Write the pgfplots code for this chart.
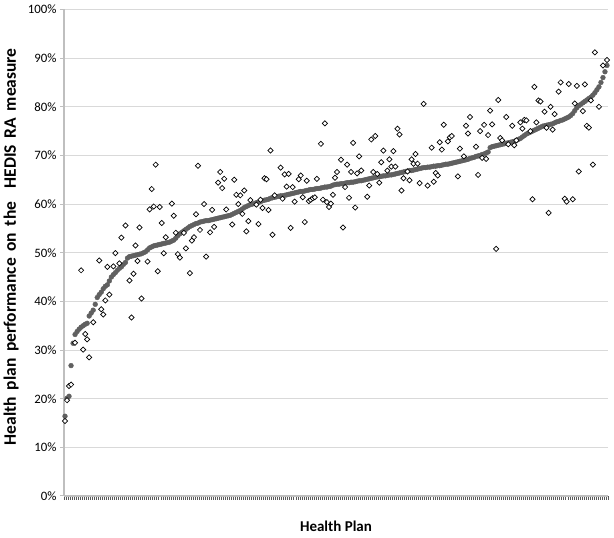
\documentclass[border=0pt]{standalone}
\usepackage{pgfplots}
\pgfplotsset{compat=1.18}
\usepackage{fontspec}
\setmainfont{Carlito}
\definecolor{gridc}{RGB}{217,217,217}
\definecolor{axc}{RGB}{191,191,191}
\definecolor{dotc}{RGB}{96,96,96}
\begin{document}
\begin{tikzpicture}
\begin{axis}[
  scale only axis, width=544pt, height=486.5pt,
  at={(0pt,0pt)}, anchor=south west,
  xmin=0.5, xmax=270.5, ymin=0, ymax=100,
  axis x line*=bottom, axis y line*=left,
  axis line style={axc, line width=1.6pt},
  ytick={0,10,...,100},
  yticklabel={\pgfmathprintnumber{\tick}\%},
  /pgf/number format/assume math mode=true,
  yticklabel style={font=\fontsize{12.8}{15}\selectfont, anchor=east},
  ymajorgrids, grid style={gridc, line width=0.8pt},
  xtick={0.5,1.5,...,270.5},
  xticklabels={},
  tick align=outside,
  major tick length=4pt,
  x tick style={black!65, line width=0.4pt},
  y tick style={axc, line width=1pt},
  xlabel={\textbf{Health Plan}},
  xlabel style={at={(axis description cs:0.5,0)}, anchor=center, yshift=-30pt, font=\fontsize{15}{18}\selectfont},
  ylabel={\spaceskip=0.38em\textbf{Health plan performance on the \ HEDIS RA measure}},
  ylabel style={at={(axis description cs:0,0.5)}, anchor=center, yshift=53pt, xshift=6pt, font=\fontsize{17.5}{20}\selectfont},
  clip=false,
]
\addplot[only marks, mark=*, mark size=2.4pt, mark options={fill=dotc, draw=dotc}] coordinates {
(1,16.4)(2,20.1)(3,20.5)(4,26.8)(5,31.4)(6,33.2)(7,33.8)(8,34.3)(9,34.7)(10,35.0)
(11,35.3)(12,35.5)(13,37.0)(14,37.6)(15,38.2)(16,39.4)(17,40.8)(18,41.4)(19,41.9)(20,42.6)
(21,43.1)(22,43.4)(23,44.2)(24,45.0)(25,45.5)(26,45.9)(27,46.4)(28,46.8)(29,47.1)(30,47.6)
(31,48.0)(32,48.9)(33,49.2)(34,49.3)(35,49.4)(36,49.5)(37,49.6)(38,49.7)(39,49.8)(40,50.0)
(41,50.2)(42,50.6)(43,51.0)(44,51.2)(45,51.4)(46,51.5)(47,51.6)(48,51.7)(49,51.8)(50,51.9)
(51,52.0)(52,52.1)(53,52.2)(54,52.4)(55,52.6)(56,53.0)(57,53.5)(58,53.9)(59,54.2)(60,54.5)
(61,54.8)(62,55.1)(63,55.4)(64,55.6)(65,55.8)(66,56.0)(67,56.1)(68,56.3)(69,56.4)(70,56.5)
(71,56.6)(72,56.6)(73,56.7)(74,56.8)(75,56.9)(76,57.0)(77,57.1)(78,57.2)(79,57.3)(80,57.4)
(81,57.5)(82,57.6)(83,57.7)(84,57.9)(85,58.1)(86,58.3)(87,58.5)(88,58.7)(89,59.0)(90,59.3)
(91,59.5)(92,59.7)(93,59.9)(94,60.0)(95,60.1)(96,60.3)(97,60.4)(98,60.5)(99,60.7)(100,60.8)
(101,60.9)(102,61.0)(103,61.2)(104,61.3)(105,61.4)(106,61.5)(107,61.6)(108,61.7)(109,61.7)(110,61.8)
(111,61.9)(112,62.0)(113,62.1)(114,62.2)(115,62.3)(116,62.4)(117,62.5)(118,62.6)(119,62.6)(120,62.7)
(121,62.8)(122,62.9)(123,63.0)(124,63.0)(125,63.1)(126,63.2)(127,63.2)(128,63.3)(129,63.4)(130,63.5)
(131,63.5)(132,63.6)(133,63.7)(134,63.9)(135,64.0)(136,64.1)(137,64.1)(138,64.2)(139,64.2)(140,64.3)
(141,64.4)(142,64.4)(143,64.5)(144,64.5)(145,64.6)(146,64.7)(147,64.8)(148,64.8)(149,64.9)(150,65.0)
(151,65.1)(152,65.2)(153,65.3)(154,65.4)(155,65.5)(156,65.6)(157,65.6)(158,65.7)(159,65.8)(160,65.8)
(161,65.9)(162,66.0)(163,66.0)(164,66.1)(165,66.2)(166,66.3)(167,66.4)(168,66.5)(169,66.6)(170,66.7)
(171,66.8)(172,66.9)(173,66.9)(174,67.0)(175,67.1)(176,67.2)(177,67.3)(178,67.4)(179,67.5)(180,67.5)
(181,67.6)(182,67.6)(183,67.7)(184,67.8)(185,67.8)(186,67.9)(187,67.9)(188,68.0)(189,68.1)(190,68.2)
(191,68.2)(192,68.3)(193,68.4)(194,68.5)(195,68.6)(196,68.7)(197,68.8)(198,68.9)(199,69.0)(200,69.1)
(201,69.2)(202,69.4)(203,69.5)(204,69.6)(205,69.8)(206,69.9)(207,70.0)(208,70.2)(209,70.3)(210,70.5)
(211,70.7)(212,71.6)(213,71.8)(214,71.9)(215,72.0)(216,72.1)(217,72.2)(218,72.3)(219,72.4)(220,72.5)
(221,72.6)(222,72.7)(223,72.8)(224,72.9)(225,73.1)(226,73.3)(227,73.5)(228,73.8)(229,74.1)(230,74.4)
(231,74.6)(232,74.8)(233,75.0)(234,75.2)(235,75.4)(236,75.6)(237,75.8)(238,76.0)(239,76.1)(240,76.2)
(241,76.3)(242,76.4)(243,76.5)(244,76.7)(245,76.9)(246,77.0)(247,77.2)(248,77.3)(249,77.5)(250,77.7)
(251,77.9)(252,78.2)(253,78.6)(254,79.2)(255,79.8)(256,80.2)(257,80.5)(258,80.8)(259,81.1)(260,81.4)
(261,81.7)(262,82.0)(263,82.4)(264,82.9)(265,83.5)(266,84.1)(267,85.0)(268,86.0)(269,87.2)(270,88.5)
};
\addplot[only marks, mark=square*, mark size=1.85pt, mark options={rotate=45, fill=white, draw=black, line width=0.7pt}] coordinates {
(1,15.4)(2,19.7)(3,22.6)(4,22.9)(6,31.5)(9,46.4)(10,30.1)(11,33.3)(12,32.2)(13,28.5)
(15,35.7)(18,48.4)(19,38.4)(20,37.3)(21,40.2)(22,47.1)(23,41.4)(25,47.2)(26,49.9)(28,47.8)
(29,53.1)(31,55.6)(33,44.3)(34,36.7)(35,45.7)(36,51.5)(37,48.3)(38,55.2)(39,40.6)(42,48.2)
(43,58.9)(44,63.1)(45,59.5)(46,68.1)(47,46.2)(48,59.4)(49,56.1)(50,49.9)(51,53.2)(54,60.1)
(55,57.6)(56,54.1)(57,49.7)(58,49.0)(60,54.1)(61,50.9)(63,45.8)(64,52.5)(65,53.2)(66,57.9)
(67,67.9)(68,54.7)(70,60.0)(71,49.2)(73,54.2)(74,58.8)(75,55.3)(77,64.4)(78,66.6)(79,63.3)
(80,65.2)(81,58.9)(84,55.8)(85,65.0)(86,61.9)(87,60.0)(88,61.8)(89,58.0)(90,62.8)(91,54.4)
(92,56.5)(93,60.8)(96,59.9)(97,55.9)(98,60.9)(99,59.2)(100,65.3)(101,65.1)(102,58.8)(103,71.0)
(104,53.7)(105,61.8)(108,67.5)(109,61.1)(110,66.1)(111,63.6)(112,66.2)(113,55.1)(114,63.5)(115,60.5)
(117,65.1)(118,65.9)(119,61.4)(120,56.3)(121,64.8)(122,60.6)(123,60.9)(124,61.2)(125,61.4)(126,65.2)
(128,72.4)(129,60.9)(130,76.6)(131,60.4)(132,59.4)(133,60.1)(134,61.9)(135,65.4)(136,66.6)(138,69.1)
(139,55.2)(140,63.5)(141,68.1)(142,61.3)(143,66.6)(144,72.6)(145,59.3)(146,66.3)(147,69.8)(148,66.9)
(151,61.5)(152,63.8)(153,73.3)(154,66.6)(155,74.0)(156,66.2)(157,64.4)(158,68.6)(159,71.0)(161,66.9)
(162,69.2)(163,67.7)(164,70.9)(165,67.7)(166,75.5)(167,74.3)(168,62.8)(169,65.3)(171,66.7)(172,64.9)
(173,69.2)(174,68.3)(175,70.3)(176,68.3)(177,64.3)(179,80.6)(181,63.8)(183,71.6)(184,64.6)(185,66.4)
(186,65.9)(187,72.7)(188,71.2)(189,76.3)(191,72.9)(192,73.7)(193,74.0)(196,65.7)(197,71.4)(199,69.8)
(200,76.1)(201,74.5)(202,77.9)(205,71.8)(206,66.0)(207,75.0)(208,69.5)(209,76.3)(210,69.3)(211,74.2)
(212,79.2)(213,76.4)(215,50.8)(216,81.4)(217,73.6)(218,73.1)(220,77.9)(221,72.3)(223,76.1)(224,72.1)
(225,73.1)(227,76.8)(228,75.5)(229,77.3)(230,77.2)(232,75.0)(233,61.0)(234,84.1)(235,76.8)(236,81.3)
(237,81.1)(239,79.0)(240,75.7)(241,58.2)(242,80.0)(243,75.3)(244,78.5)(246,83.1)(247,85.0)(249,61.1)
(250,60.5)(251,84.7)(253,61.0)(254,80.7)(255,84.3)(256,66.7)(258,79.1)(259,84.6)(260,76.1)(261,75.7)
(262,81.3)(263,68.1)(264,91.2)(266,80.0)(268,88.5)(270,89.6)
};
\end{axis}
\pgfresetboundingbox
\path[use as bounding box] (-64pt,-42pt) rectangle (550pt,496pt);
\end{tikzpicture}
\end{document}
